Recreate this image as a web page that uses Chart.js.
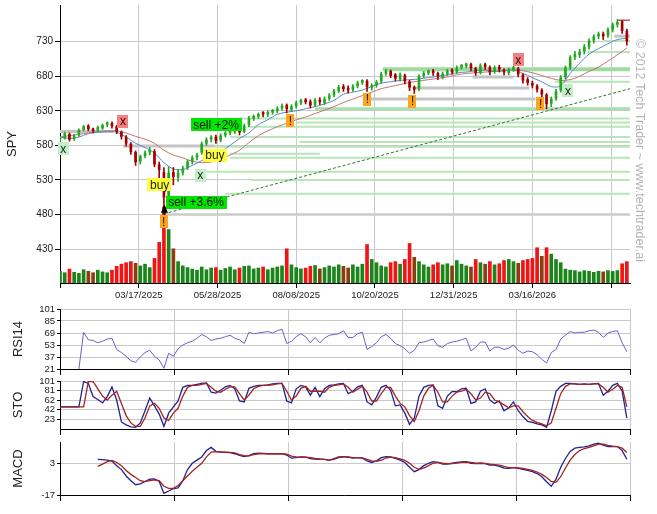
<!DOCTYPE html>
<html><head><meta charset="utf-8">
<script src="https://cdn.jsdelivr.net/npm/chart.js@4.4.1/dist/chart.umd.min.js"></script>
<style>
html,body{margin:0;padding:0;background:#fff;}
#wrap{position:relative;width:657px;height:514px;overflow:hidden;}
canvas{position:absolute;left:0;}
</style></head><body>
<div id="wrap">
<canvas id="cMain" width="657" height="304" style="top:0px"></canvas>
<canvas id="cRsi" width="657" height="71" style="top:304px"></canvas>
<canvas id="cSto" width="657" height="60" style="top:375px"></canvas>
<canvas id="cMacd" width="657" height="79" style="top:435px"></canvas>
</div>
<script>
// ---------- DATA (one candle per 3 trading days) ----------
const STEP = 3;
const opens = [588,591,596,590,595,603,608,603,602,605,
 610,612,607,599,592,582,570,557,565,570,
 571,552,541,507,541,534,541,548,557,563,
 570,583,589,592,588,595,598,600,604,600,
 610,619,622,626,625,628,630,634,638,632,
 637,642,645,643,639,646,642,648,653,659,
 665,663,661,666,671,673,664,667,673,684,
 687,682,676,681,672,663,662,681,685,687,
 684,679,684,688,687,693,695,697,691,686,
 696,693,687,693,689,685,690,691,682,675,
 670,666,660,653,641,648,660,679,693,708,
 711,716,723,732,738,741,739,748,755,759,
 745];
const highs = [593,599,598,596,604,609,610,605,608,611,
 614,614,609,601,594,584,572,566,572,577,
 574,556,548,549,548,545,550,559,565,569,
 585,591,594,595,597,600,604,606,606,611,
 622,624,627,629,630,632,636,640,640,639,
 644,647,648,646,648,649,650,655,661,667,
 668,666,668,673,675,675,669,674,686,690,
 689,684,685,683,674,666,682,687,689,690,
 686,686,690,691,695,697,699,699,693,698,
 699,695,695,696,691,692,695,693,684,678,
 673,668,662,655,650,661,681,695,710,716,
 719,726,734,740,744,744,750,757,762,761,
 748];
const lows = [585,589,586,587,593,601,601,598,600,603,
 607,605,597,589,579,567,551,553,562,566,
 549,530,481,499,523,528,537,545,553,559,
 567,580,585,583,585,592,595,597,595,598,
 607,616,619,621,622,625,627,631,627,629,
 634,639,640,634,636,639,639,645,650,656,
 658,656,658,663,668,658,660,664,670,681,
 678,673,673,669,659,655,659,678,682,681,
 675,676,681,683,684,690,692,688,681,683,
 690,682,684,686,682,682,687,679,670,667,
 663,657,649,633,636,645,657,676,690,704,
 707,712,719,728,734,733,736,744,751,742,
 725];
const closes = [590,597,589,594,602,607,604,601,606,609,
 612,608,600,593,583,571,556,564,569,573,
 553,545,505,540,535,540,546,556,562,566,
 582,588,591,587,594,597,601,603,599,608,
 619,621,624,625,627,629,633,637,633,636,
 641,644,643,638,645,643,647,652,658,664,
 662,660,665,670,672,665,666,671,683,686,
 681,677,682,673,664,661,680,684,686,685,
 680,683,687,686,692,694,696,692,685,695,
 694,686,692,690,686,689,692,683,674,671,
 667,661,654,640,647,658,678,692,707,712,
 715,722,731,737,740,738,747,754,758,746,
 731];
const volumes = [55,48,65,50,45,62,55,48,60,52,
 48,60,78,88,95,100,92,80,88,72,
 115,190,355,250,160,100,80,72,65,60,
 75,62,70,72,60,68,75,62,70,78,
 80,66,70,75,62,70,75,80,160,85,
 72,66,70,78,82,66,72,80,75,85,
 78,70,85,75,88,180,110,95,80,75,
 95,100,88,110,185,120,100,85,75,85,
 95,85,90,80,105,88,80,75,110,95,
 88,100,85,90,105,110,100,92,105,110,
 115,165,125,165,135,110,95,65,60,58,
 52,58,55,50,55,52,58,54,58,90,
 100];
// moving averages, one value per 6 trading days
const MA_STEP = 6;
const maFast = [592,590,592,597,599,600,599,592,583,577,
 569,555,546,545,551,558,566,571,580,590,
 598,610,617,625,628,630,633,636,640,645,
 654,657,660,665,670,672,674,675,676,678,
 680,682,685,686,688,689,687,688,689,684,
 678,672,665,666,684,699,712,720,727,733,
 735];
const maSlow = [592,594,596,598,600,601,601,598,593,589,
 583,573,566,562,557,555,556,560,566,573,
 584,594,601,607,612,617,621,626,631,636,
 642,647,652,657,662,665,668,671,673,675,
 677,679,682,684,685,686,687,688,689,688,
 685,681,677,674,675,680,687,693,702,711,
 721];
// support / resistance levels
const levelVals = [600,579,480,679,663,647, 731,715,690,672,633,619,613,607,592,585,578,568,562,542,530,510, 761,738];
const levelFrom = [0,40,68,262,224,194, 345,335,205,314,162,114,150,119,108,152,98,108,108,93,121,105, 354,352];
const levelTo   = [34,98,362,288,298,302, 362,362,362,362,362,362,362,362,362,362,362,165,362,362,362,362, 362,362];
const levelKind = ['gray','gray','grayLong','gray','gray','gray','green','green','greenThick','green','greenMid','green','green','green','green','green','green','green','green','green','green','green','red','gray'];
const trendX = [66, 362];
const trendY = [481, 662];
// signals
const annText = ['x','x','x','x','x','buy','buy','sell +2%','sell +3.6%','!','!','!','!','!'];
const annKind = ['exit','exit','entry','entry','entry','buy','buy','sell','sell','warn','warn','warn','warn','warn'];
const annX = [40, 291, 2, 89, 322.6, 63.3, 98.4, 99.1, 86.4, 65.9, 146.4, 195.3, 223.9, 305.2];
const annY = [615, 704, 575, 537, 659, 523, 566, 610, 498, 470, 616, 647, 644, 640];
const arrowX = 66;
const arrowY = [480, 494];
// indicators (one value per 3 trading days)
const rsi14 = [null,null,null,null,21,70,60,59,56,58,
 61,62,47,43,38,32,30,37,43,46,
 38,33,22,42,38,48,53,56,58,62,
 67,64,59,61,62,64,66,62,60,55,
 70,68,69,70,71,69,72,74,55,58,
 64,68,64,56,63,56,62,66,67,68,
 72,63,63,68,70,47,51,56,64,67,
 62,55,52,48,42,46,56,57,59,61,
 52,50,55,57,58,60,62,45,50,57,
 57,45,50,50,47,49,53,46,42,45,
 44,40,34,29,43,47,61,66,71,69,
 70,70,72,73,70,63,69,71,72,56,
 44];
const stoK = [48,48,48,48,48,100,96,69,63,56,
 69,89,62,17,11,7,6,15,40,66,
 50,33,8,35,48,60,88,92,92,94,
 96,97,78,76,82,89,92,85,60,58,
 86,90,92,92,93,95,96,96,60,56,
 85,92,89,72,88,69,85,92,93,95,
 96,75,80,89,92,58,52,68,88,92,
 82,50,52,35,12,25,70,88,92,93,
 50,45,70,79,79,85,86,55,58,80,
 85,62,55,60,40,46,58,40,28,18,
 16,13,11,6,40,80,90,96,96,95,
 94,95,94,95,96,72,80,92,96,80,
 25];
const stoD = [48,48,48,48,48,48,100,100,85,70,
 62,72,80,55,30,15,8,8,25,50,
 55,45,25,20,35,45,70,88,92,92,
 94,96,88,80,78,84,89,89,75,62,
 72,85,90,92,92,93,95,96,80,62,
 70,86,90,80,80,80,78,88,92,93,
 95,88,78,84,90,78,60,60,75,88,
 88,70,55,48,30,18,40,70,86,92,
 78,58,58,70,78,80,84,75,62,66,
 78,75,62,58,52,46,50,50,38,28,
 20,16,13,9,15,45,75,90,95,95,
 94,94,94,95,95,88,78,84,92,88,
 48];
const macdLine = [null,null,null,null,null,null,null,null,5.5,5.3,
 5.0,4.4,1.5,-1.0,-5.0,-8.0,-10.5,-10.0,-8.5,-7.0,
 -6.8,-8.5,-16.0,-14.5,-13.0,-12.5,-8.0,-1.0,3.0,5.0,
 7.0,11.0,13.0,10.5,10.0,9.9,9.7,9.0,8.0,7.2,
 7.8,9.0,9.3,9.2,9.0,9.0,9.0,9.0,8.2,6.2,
 6.5,7.0,6.9,6.0,5.7,5.5,5.5,4.8,6.0,7.0,
 7.2,6.8,6.2,6.5,6.2,4.5,3.5,4.5,6.5,7.2,
 7.0,6.0,5.0,3.5,0.5,-2.3,-1.0,1.5,3.0,4.0,
 3.5,2.5,2.5,3.0,3.5,3.8,4.0,3.0,2.8,3.0,
 2.8,1.8,1.9,1.0,0.0,-0.2,0.3,-0.2,-0.8,-1.5,
 -2.3,-3.5,-5.5,-8.6,-11.5,-7.0,0.5,6.0,10.5,12.5,
 13.0,13.3,14.0,15.0,15.6,14.5,13.5,13.5,13.5,11.0,
 5.5];
const macdSignal = [null,null,null,null,null,null,null,null,1.0,2.5,
 4.0,4.8,3.5,1.5,-1.5,-4.0,-6.0,-8.0,-8.6,-8.0,
 -7.5,-8.0,-11.5,-12.8,-12.8,-11.0,-8.0,-5.0,-2.0,0.5,
 3.0,7.0,10.0,10.3,10.2,10.0,9.8,9.5,8.5,7.8,
 7.6,8.4,9.0,9.1,9.0,9.0,9.0,9.0,8.8,7.5,
 7.0,6.9,6.9,6.5,6.0,5.7,5.5,5.0,5.5,6.5,
 7.0,7.0,6.6,6.5,6.4,5.5,4.5,4.2,5.0,6.3,
 6.8,6.5,5.8,4.8,3.0,0.5,-0.8,0.0,1.5,3.0,
 3.5,3.0,2.8,2.8,3.1,3.5,3.8,3.5,3.0,3.0,
 2.9,2.5,2.2,1.8,1.0,0.3,0.2,0.1,-0.3,-0.8,
 -1.5,-2.5,-4.0,-6.0,-8.5,-9.0,-5.5,0.0,5.0,8.5,
 11.0,12.3,13.0,14.0,15.0,15.0,14.3,13.8,13.5,12.5,
 9.8];
// axes
const X_MIN = 0, X_MAX = 362;
const mainTickIdx = [0,50,100,150,200,250,300,350];
const mainTickLabels = ['','03/17/2025','05/28/2025','08/08/2025','10/20/2025','12/31/2025','03/16/2026',''];
const lowerTickIdx = [0,72.4,144.8,217.2,289.6,362];
const priceTicks = [430,480,530,580,630,680,730];
const rsiTicks = [21,37,53,69,85,101];
const stoTicks = [23,42,62,81,101];
const macdTicks = [-17,3];
const watermark = '\u00A9 2012 Tech Trader ~ www.techtrader.ai';

// ---------- RENDERING ----------
Chart.defaults.font.family = '"Liberation Sans", Arial, sans-serif';
Chart.defaults.color = '#222';
const NARROW = '"Liberation Sans Narrow", "Liberation Sans", Arial, sans-serif';
const GRID = '#c9c9c9';
const idx = closes.map((_, k) => k * STEP);
const maIdx = maFast.map((_, j) => j * MA_STEP);
const isUp = k => closes[k] >= opens[k];
const UP = '#23a823', DOWN = '#a50000';

function xAxis(tickVals, labels, height, tickLen) {
  return {
    type: 'linear', min: X_MIN, max: X_MAX, offset: false,
    grid: { color: GRID, offset: false, tickColor: '#000', tickLength: tickLen, drawTicks: true },
    border: { color: '#000', width: 1 },
    ticks: { display: !!labels, autoSkip: false, maxRotation: 0, minRotation: 0, padding: 2,
             font: { size: 9.5 }, color: '#222', callback: (v, i) => labels ? labels[i] : '' },
    afterBuildTicks: s => { s.ticks = tickVals.map(v => ({ value: v })); },
    afterFit: s => { s.height = height; s.paddingLeft = 0; s.paddingRight = 0; }
  };
}
function yAxis(min, max, tickVals, title, titlePad, tickLen, fontSize) {
  return {
    type: 'linear', min, max,
    grid: { color: GRID, tickColor: '#000', tickLength: tickLen, drawTicks: true },
    border: { color: '#000', width: 1 },
    ticks: { autoSkip: false, padding: 2, font: { size: fontSize }, color: '#222', callback: v => String(v) },
    title: { display: true, text: title, color: '#222', font: { size: 13, family: NARROW }, padding: { top: titlePad, bottom: 0 } },
    afterBuildTicks: s => { s.ticks = tickVals.map(v => ({ value: v })); },
    afterFit: s => { s.width = 60; s.paddingTop = 0; s.paddingBottom = 0; }
  };
}
const common = { responsive: false, animation: false, events: [],
  plugins: { legend: { display: false }, tooltip: { enabled: false } } };

const levelStyle = {
  gray: { c: '#c4c4c4', w: 3 }, grayLong: { c: '#cbcbcb', w: 2.5 },
  green: { c: '#b9e5b9', w: 2 }, greenMid: { c: '#aadfaa', w: 3 },
  greenThick: { c: '#9edb9e', w: 4 }, red: { c: '#a83030', w: 1.2 }
};
const annStyle = {
  exit: { bg: '#f28080', fg: '#3a0000' }, entry: { bg: '#c4eec4', fg: '#222' },
  buy: { bg: '#ffff3a', fg: '#222' }, sell: { bg: '#00e600', fg: '#111' },
  warn: { bg: '#ffa41c', fg: '#222' }
};

const annPlugin = {
  id: 'ann',
  afterDatasetsDraw(chart) {
    const { ctx, scales: { x, y } } = chart;
    ctx.save();
    ctx.font = '12px "Liberation Sans", Arial, sans-serif';
    ctx.textAlign = 'center'; ctx.textBaseline = 'middle';
    annText.forEach((t, i) => {
      const px = x.getPixelForValue(annX[i]), py = y.getPixelForValue(annY[i]);
      const w = ctx.measureText(t).width + 5, h = 13;
      const st = annStyle[annKind[i]];
      ctx.fillStyle = st.bg; ctx.fillRect(Math.round(px - w / 2), Math.round(py - h / 2), Math.round(w), h);
      ctx.fillStyle = st.fg; ctx.fillText(t, px, py + 1);
    });
    const ax = Math.round(x.getPixelForValue(arrowX)) + 0.5;
    const a0 = y.getPixelForValue(arrowY[0]), a1 = y.getPixelForValue(arrowY[1]);
    ctx.strokeStyle = '#000'; ctx.lineWidth = 1;
    ctx.beginPath(); ctx.moveTo(ax, a0); ctx.lineTo(ax, a1 + 5); ctx.stroke();
    ctx.fillStyle = '#000'; ctx.beginPath();
    ctx.moveTo(ax, a1); ctx.lineTo(ax - 3.5, a1 + 8); ctx.lineTo(ax + 3.5, a1 + 8); ctx.closePath(); ctx.fill();
    // watermark
    ctx.save();
    ctx.translate(639, 39); ctx.rotate(Math.PI / 2);
    ctx.fillStyle = '#b5b5b5'; ctx.font = '12.5px "Liberation Sans", Arial, sans-serif';
    ctx.textAlign = 'left'; ctx.textBaseline = 'middle';
    ctx.fillText(watermark, 0, 0);
    ctx.restore();
    ctx.restore();
  }
};

const mainDatasets = [
  { type: 'bar', label: 'Volume', yAxisID: 'yv', order: 20, grouped: false, barThickness: 3,
    data: idx.map((x, k) => ({ x, y: volumes[k] })),
    backgroundColor: c => isUp(c.dataIndex) ? '#1a861a' : (c.dataIndex > 0 && volumes[c.dataIndex] > volumes[c.dataIndex - 1] ? '#f01414' : '#8a3f12') },
  ...levelVals.map((v, i) => ({ type: 'line', label: 'L' + i, order: 15,
    data: [{ x: levelFrom[i], y: v }, { x: levelTo[i], y: v }],
    borderColor: levelStyle[levelKind[i]].c, borderWidth: levelStyle[levelKind[i]].w, pointRadius: 0 })),
  { type: 'line', label: 'trend', order: 12, data: trendX.map((x, i) => ({ x, y: trendY[i] })),
    borderColor: '#2d7a2d', borderWidth: 1, borderDash: [3, 2], pointRadius: 0 },
  { type: 'line', label: 'MA slow', order: 10, data: maIdx.map((x, j) => ({ x, y: maSlow[j] })),
    borderColor: '#c47474', borderWidth: 1, pointRadius: 0, tension: 0.3 },
  { type: 'line', label: 'MA fast', order: 9, data: maIdx.map((x, j) => ({ x, y: maFast[j] })),
    borderColor: '#5a88c8', borderWidth: 1, pointRadius: 0, tension: 0.3 },
  { type: 'bar', label: 'wick', order: 3, grouped: false, barThickness: 1,
    data: idx.map((x, k) => ({ x, y: [lows[k], highs[k]] })),
    backgroundColor: c => isUp(c.dataIndex) ? UP : DOWN },
  { type: 'bar', label: 'body', order: 2, grouped: false, barThickness: 2, minBarLength: 2,
    data: idx.map((x, k) => ({ x, y: [opens[k], closes[k]] })),
    backgroundColor: c => isUp(c.dataIndex) ? UP : DOWN }
];

new Chart(document.getElementById('cMain'), {
  type: 'bar',
  data: { datasets: mainDatasets },
  options: { ...common,
    layout: { padding: { left: 0, right: 27, top: 5, bottom: 0 } },
    scales: {
      x: xAxis(mainTickIdx, mainTickLabels, 21, 5),
      y: yAxis(381, 783, priceTicks, 'SPY', 4.2, 5, 10),
      yv: { type: 'linear', display: false, min: 0, max: 1300 }
    } },
  plugins: [annPlugin]
});

function lowerChart(id, padTop, xHeight, ymin, ymax, ticks, title, sets) {
  return new Chart(document.getElementById(id), {
    type: 'line',
    data: { datasets: sets.map(s => ({ data: idx.map((x, k) => ({ x, y: s.values[k] })),
      borderColor: s.color, borderWidth: s.width, pointRadius: 0, tension: 0, label: s.label })) },
    options: { ...common,
      layout: { padding: { left: 0, right: 27, top: padTop, bottom: 0 } },
      scales: { x: xAxis(lowerTickIdx, null, xHeight, 6),
                y: yAxis(ymin, ymax, ticks, title, 10.2, 3, 9.5) } }
  });
}
lowerChart('cRsi', 5, 6, 21, 101, rsiTicks, 'RSI14', [
  { label: 'RSI14', values: rsi14, color: '#6a5fd0', width: 1 }]);
lowerChart('cSto', 6, 6, 2.5, 101, stoTicks, 'STO', [
  { label: '%D', values: stoD, color: '#a52222', width: 1.3 },
  { label: '%K', values: stoK, color: '#22228f', width: 1.3 }]);
lowerChart('cMacd', 7, 19, -17, 16.4, macdTicks, 'MACD', [
  { label: 'signal', values: macdSignal, color: '#a52222', width: 1.3 },
  { label: 'MACD', values: macdLine, color: '#22228f', width: 1.3 }]);
</script>
</body></html>
